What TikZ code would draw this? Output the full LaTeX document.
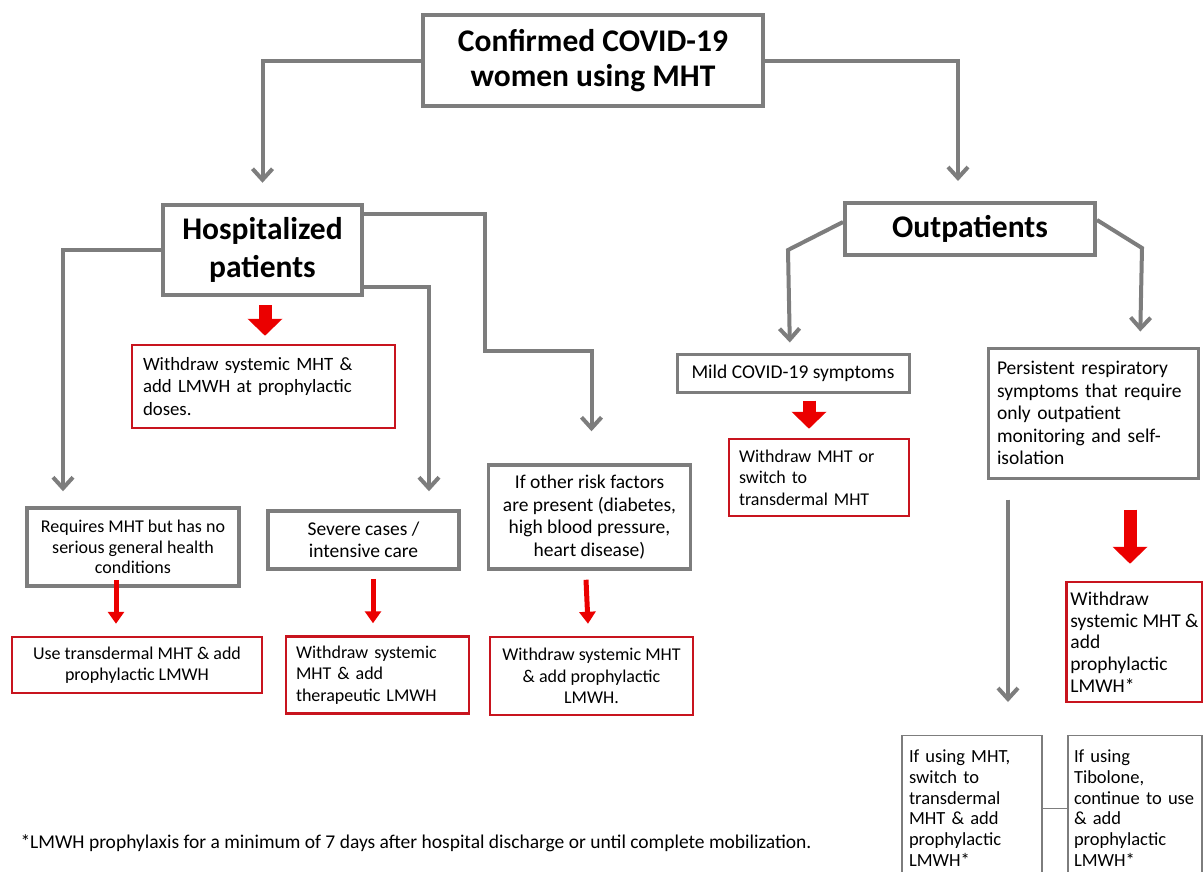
\documentclass[tikz,border=0pt]{standalone}
\usepackage{fontspec}
\setmainfont{Carlito}
\usepackage{tikz}
\usetikzlibrary{arrows.meta,calc}
\definecolor{linegray}{RGB}{125,125,125}
\definecolor{boxred}{RGB}{200,20,30}
\definecolor{arrowred}{RGB}{235,0,0}

\begin{document}
\begin{tikzpicture}[x=1pt,y=-1pt,
  txt/.style={font=\fontsize{19.5}{22.5}\selectfont},
  smalltxt/.style={font=\fontsize{18}{21.5}\selectfont},
  headbox/.style={draw=linegray, line width=4.5pt, fill=white, align=center, inner sep=4pt,
    font=\fontsize{31.5}{35}\selectfont\bfseries},
  graybox/.style={txt, draw=linegray, line width=3.5pt, fill=white, align=center, inner sep=4pt},
  redbox/.style={smalltxt, draw=boxred, line width=2.5pt, fill=white, inner sep=4pt},
  thinbox/.style={font=\fontsize{18.5}{20.7}\selectfont, draw=linegray, line width=1.2pt, fill=white,
    align=left, inner xsep=7pt, inner ysep=3pt, anchor=north},
  conn/.style={draw=linegray, line width=4pt, -{Straight Barb[length=11pt,width=20pt]}},
  redbig/.style={draw=arrowred, line width=13pt, -{Triangle[length=17pt,width=34pt]}},
  redsmall/.style={draw=arrowred, line width=5pt, -{Triangle[length=12pt,width=16pt]}}]
\useasboundingbox (0,0) rectangle (1203,871);

% top level
\node[headbox, minimum width=340, minimum height=91] (covid) at (593,60.5)
  {Confirmed COVID-19\\women using MHT};
\node[headbox, minimum width=199, minimum height=90, font=\fontsize{31.5}{37.5}\selectfont\bfseries] (hosp) at (262.5,250)
  {Hospitalized\\patients};
\node[headbox, minimum width=250, minimum height=52, line width=4pt] (outp) at (970,229)
  {Outpatients};

% hospitalized branch
\node[redbox, font=\fontsize{18.8}{22.5}\selectfont, text width=241, align=left, inner xsep=11pt, minimum height=83] (hospwd) at (263.5,386.5)
  {Withdraw systemic MHT \&\\add LMWH at prophylactic\\doses.};
\node[graybox, font=\fontsize{18}{20.7}\selectfont, minimum width=212, minimum height=78] (reqmht) at (133,547)
  {Requires MHT but has no\\serious general health\\conditions};
\node[graybox, minimum width=191, minimum height=58] (severe) at (363.5,540)
  {Severe cases /\\intensive care};
\node[graybox, minimum width=202, minimum height=104] (risk) at (589.5,517)
  {If other risk factors\\are present (diabetes,\\high blood pressure,\\heart disease)};
\node[redbox, align=center, minimum width=250, minimum height=56] (reqwd) at (137,665)
  {Use transdermal MHT \& add\\prophylactic LMWH};
\node[redbox, text width=163, align=left, inner xsep=10pt, minimum height=77] (sevwd) at (377.5,675)
  {Withdraw systemic\\MHT \& add\\therapeutic LMWH};
\node[redbox, align=center, minimum width=203, minimum height=78] (riskwd) at (591.5,676)
  {Withdraw systemic MHT\\\& add prophylactic\\LMWH.};

% outpatients branch
\node[graybox, minimum width=232, minimum height=38, line width=3pt] (mild) at (793,373)
  {Mild COVID-19 symptoms};
\node[redbox, text width=160, align=left, inner xsep=10pt, minimum height=77] (mildwd) at (819,477.5)
  {Withdraw MHT or\\switch to\\transdermal MHT};
\node[graybox, text width=192, align=left, inner xsep=9pt, minimum height=130, line width=3pt] (persist) at (1093,413)
  {Persistent respiratory\\symptoms that require\\only outpatient\\monitoring and self-\\isolation};
\node[redbox, font=\fontsize{19.5}{21.7}\selectfont, align=left, minimum width=135, minimum height=120] (perswd) at (1134.5,642)
  {Withdraw\\systemic MHT \&\\add\\prophylactic\\LMWH*};
\node[thinbox, text width=126, minimum height=145] (ifmht) at (972,735)
  {If using MHT,\\switch to\\transdermal\\MHT \& add\\prophylactic\\LMWH*};
\node[thinbox, text width=122, inner xsep=6pt, minimum height=145] (iftib) at (1135,735)
  {If using\\Tibolone,\\continue to use\\\& add\\prophylactic\\LMWH*};

\node[anchor=west, font=\fontsize{19.5}{22}\selectfont] (note) at (17,843)
  {*LMWH prophylaxis for a minimum of 7 days after hospital discharge or until complete mobilization.};

% connectors
\draw[conn, shorten >=20pt] (covid.west) -| (hosp.north);
\draw[conn, shorten >=20pt] (covid.east) -| ([xshift=-12pt]outp.north);
\draw[conn, shorten >=15pt] (hosp.west) -| ([xshift=-70pt]reqmht.north);
\draw[conn, shorten >=18pt] ([yshift=10pt]hosp.south east) -| ([xshift=65.5pt]severe.north);
\draw[conn, shorten >=32pt] ([yshift=-11pt]hosp.north east) -| ++(121,137) -| ([xshift=2pt]risk.north);
\draw[conn, shorten >=10pt] ([yshift=7pt]outp.west) -- ++(-55,28) -- ([xshift=-3pt]mild.north);
\draw[conn, shorten >=15pt] ([yshift=9pt]outp.east) -- ++(45,28) -- ([xshift=47pt]persist.north);
\draw[conn, shorten >=33pt] ([xshift=-85pt,yshift=-20pt]persist.south) -- ([xshift=36pt]ifmht.north);
\draw[linegray, line width=1.2pt] (ifmht.east) -- (iftib.west);

\draw[redbig] ([xshift=2.5pt,yshift=-8pt]hosp.south) -- ([xshift=1.5pt,yshift=8pt]hospwd.north);
\draw[redbig] ([xshift=16pt,yshift=-7pt]mild.south) -- ([xshift=-10pt,yshift=9pt]mildwd.north);
\draw[redbig] ([xshift=37pt,yshift=-30pt]persist.south) -- ([xshift=-4.5pt,yshift=17pt]perswd.north);
\draw[redsmall] ([xshift=-17pt,yshift=8pt]reqmht.south) -- ([xshift=-21pt,yshift=12pt]reqwd.north);
\draw[redsmall] ([xshift=9.5pt,yshift=-8pt]severe.south) -- ([xshift=-4.5pt,yshift=12pt]sevwd.north);
\draw[redsmall] ([xshift=-3.5pt,yshift=-9pt]risk.south) -- ([xshift=-3.5pt,yshift=12pt]riskwd.north);
\end{tikzpicture}
\end{document}
